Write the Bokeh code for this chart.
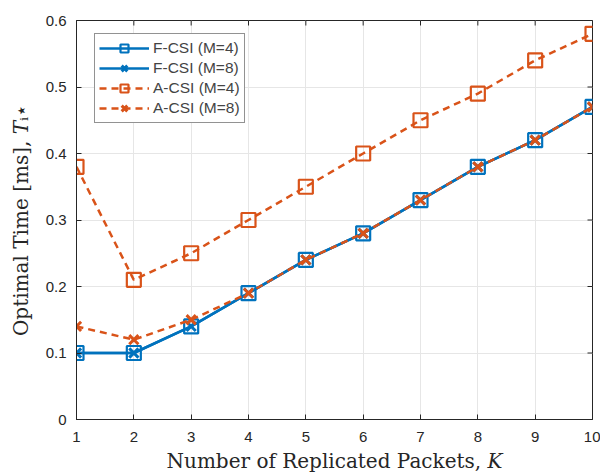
import math
from bokeh.plotting import figure
from bokeh.models import Range1d, FixedTicker
from bokeh.embed import file_html
from bokeh.resources import INLINE

K = [1, 2, 3, 4, 5, 6, 7, 8, 9, 10]
fcsi_m4 = [0.10, 0.10, 0.14, 0.19, 0.24, 0.28, 0.33, 0.38, 0.42, 0.47]
fcsi_m8 = [0.10, 0.10, 0.14, 0.19, 0.24, 0.28, 0.33, 0.38, 0.42, 0.47]
acsi_m4 = [0.38, 0.21, 0.25, 0.30, 0.35, 0.40, 0.45, 0.49, 0.54, 0.58]
acsi_m8 = [0.14, 0.12, 0.15, 0.19, 0.24, 0.28, 0.33, 0.38, 0.42, 0.47]
x_ticks = [1, 2, 3, 4, 5, 6, 7, 8, 9, 10]
y_ticks = [0, 0.1, 0.2, 0.3, 0.4, 0.5, 0.6]

BLUE = "#0072BD"
ORANGE = "#D95319"
AX = "#262626"

p = figure(width=600, height=476, output_backend="svg", toolbar_location=None,
           x_range=Range1d(1, 10), y_range=Range1d(0, 0.6),
           min_border_left=76, min_border_right=8, min_border_top=20, min_border_bottom=57)
p.outline_line_color = AX
p.outline_line_width = 1

p.xgrid.ticker = FixedTicker(ticks=x_ticks)
p.ygrid.ticker = FixedTicker(ticks=y_ticks)
p.grid.grid_line_color = "#E6E6E6"
p.grid.grid_line_width = 1

# mirrored inward ticks on top and right edges (box on)
p.scatter(x_ticks, [y_ticks[-1]] * len(x_ticks), marker="dash", angle=math.pi / 2,
          size=10, line_color=AX, line_width=1)
p.scatter([x_ticks[-1]] * len(y_ticks), y_ticks, marker="dash",
          size=10, line_color=AX, line_width=1)

series = [
    ("F-CSI (M=4)", fcsi_m4, BLUE, "solid", "square"),
    ("F-CSI (M=8)", fcsi_m8, BLUE, "solid", "x"),
    ("A-CSI (M=4)", acsi_m4, ORANGE, "7 5", "square"),
    ("A-CSI (M=8)", acsi_m8, ORANGE, "7 5", "x"),
]
for label, ys, col, dash, mk in series:
    p.line(K, ys, line_color=col, line_width=2.5, line_dash=dash, legend_label=label)
    if mk == "square":
        p.scatter(K, ys, marker="square", size=14, fill_color=None, line_color=col,
                  line_width=2.2, legend_label=label)
    else:
        p.scatter(K, ys, marker="x", size=13, line_color=col, line_width=3, legend_label=label)

for ax in (p.xaxis[0], p.yaxis[0]):
    ax.major_tick_in = 5
    ax.major_tick_out = 0
    ax.minor_tick_in = 0
    ax.minor_tick_out = 0
    ax.axis_line_color = AX
    ax.major_tick_line_color = AX
    ax.major_label_text_font = "Liberation Sans"
    ax.major_label_text_font_size = "15px"
    ax.major_label_text_color = AX
    ax.axis_label_text_font = "DejaVu Serif"
    ax.axis_label_text_font_style = "normal"
    ax.axis_label_text_font_size = "20px"
    ax.axis_label_text_color = AX

p.xaxis[0].ticker = FixedTicker(ticks=x_ticks)
p.yaxis[0].ticker = FixedTicker(ticks=y_ticks)
p.xaxis[0].major_label_overrides = {1: "1", 10: "10"}
p.yaxis[0].major_label_overrides = {0: "0"}
p.xaxis[0].axis_label = "Number of Replicated Packets, 𝐾"
p.yaxis[0].axis_label = "Optimal Time [ms], 𝑇ᵢ⋆"
p.xaxis[0].major_label_standoff = 12
p.xaxis[0].axis_label_standoff = 4
p.yaxis[0].major_label_standoff = 10
p.yaxis[0].axis_label_standoff = 10

p.legend.location = (18, 296)
p.legend.padding = 4
p.legend.spacing = 0
p.legend.label_text_font = "Liberation Sans"
p.legend.label_text_font_size = "15.5px"
p.legend.label_height = 20
p.legend.glyph_height = 20
p.legend.glyph_width = 50
p.legend.label_standoff = 4
p.legend.border_line_color = AX
p.legend.border_line_width = 1
p.legend.background_fill_alpha = 1

open("out.html", "w").write(file_html(p, INLINE))
